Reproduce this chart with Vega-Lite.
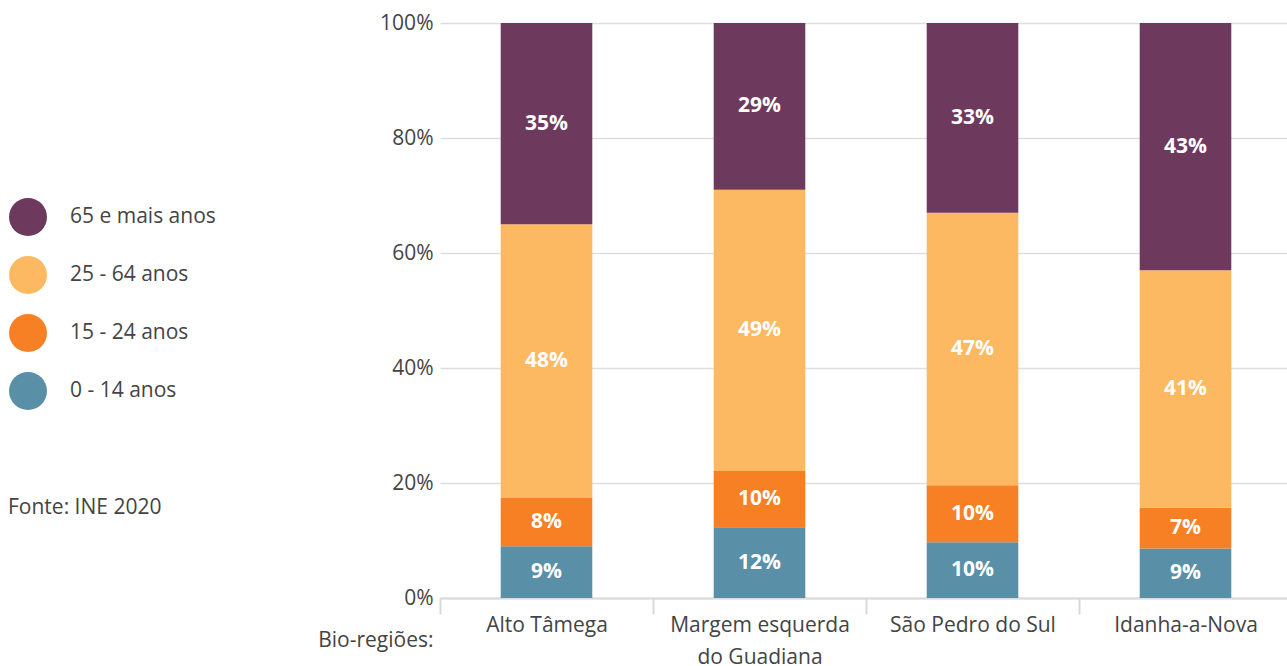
{
  "$schema": "https://vega.github.io/schema/vega-lite/v6.json",
  "width": 852,
  "height": 575,
  "autosize": "none",
  "padding": {"left": 440, "top": 23, "right": 0, "bottom": 68},
  "background": "white",
  "config": {"font": "Open Sans", "view": {"stroke": null}},
  "title": {
    "text": "Fonte: INE 2020",
    "anchor": "start",
    "frame": "group",
    "orient": "top",
    "offset": 0,
    "baseline": "middle",
    "dx": -432,
    "dy": 517,
    "fontSize": 21,
    "fontWeight": 500,
    "color": "#444444"
  },
  "data": {
    "values": [
      {"regiao": "Alto Tâmega", "grupo": "0 - 14 anos", "ordem": 1, "valor": 0.090},
      {"regiao": "Alto Tâmega", "grupo": "15 - 24 anos", "ordem": 2, "valor": 0.084},
      {"regiao": "Alto Tâmega", "grupo": "25 - 64 anos", "ordem": 3, "valor": 0.476},
      {"regiao": "Alto Tâmega", "grupo": "65 e mais anos", "ordem": 4, "valor": 0.350},
      {"regiao": "Margem esquerda do Guadiana", "grupo": "0 - 14 anos", "ordem": 1, "valor": 0.123},
      {"regiao": "Margem esquerda do Guadiana", "grupo": "15 - 24 anos", "ordem": 2, "valor": 0.098},
      {"regiao": "Margem esquerda do Guadiana", "grupo": "25 - 64 anos", "ordem": 3, "valor": 0.489},
      {"regiao": "Margem esquerda do Guadiana", "grupo": "65 e mais anos", "ordem": 4, "valor": 0.290},
      {"regiao": "São Pedro do Sul", "grupo": "0 - 14 anos", "ordem": 1, "valor": 0.097},
      {"regiao": "São Pedro do Sul", "grupo": "15 - 24 anos", "ordem": 2, "valor": 0.099},
      {"regiao": "São Pedro do Sul", "grupo": "25 - 64 anos", "ordem": 3, "valor": 0.474},
      {"regiao": "São Pedro do Sul", "grupo": "65 e mais anos", "ordem": 4, "valor": 0.330},
      {"regiao": "Idanha-a-Nova", "grupo": "0 - 14 anos", "ordem": 1, "valor": 0.086},
      {"regiao": "Idanha-a-Nova", "grupo": "15 - 24 anos", "ordem": 2, "valor": 0.071},
      {"regiao": "Idanha-a-Nova", "grupo": "25 - 64 anos", "ordem": 3, "valor": 0.413},
      {"regiao": "Idanha-a-Nova", "grupo": "65 e mais anos", "ordem": 4, "valor": 0.430}
    ]
  },
  "encoding": {
    "x": {
      "field": "regiao",
      "type": "nominal",
      "sort": ["Alto Tâmega", "Margem esquerda do Guadiana", "São Pedro do Sul", "Idanha-a-Nova"],
      "scale": {"paddingInner": 0, "paddingOuter": 0},
      "axis": {
        "title": "Bio-regiões:",
        "titleX": -7,
        "titleY": 42,
        "titleAlign": "right",
        "titleBaseline": "middle",
        "titleFontSize": 21,
        "titleFontWeight": 500,
        "titleColor": "#444444",
        "labelAngle": 0,
        "labelFontSize": 21,
        "labelFontWeight": 500,
        "labelColor": "#444444",
        "labelPadding": 0,
        "labelLineHeight": 32,
        "labelExpr": "datum.label == 'Margem esquerda do Guadiana' ? ['Margem esquerda', 'do Guadiana'] : datum.label",
        "tickBand": "extent",
        "tickSize": 16,
        "tickColor": "#d9d9d9",
        "tickWidth": 2,
        "domainColor": "#d9d9d9",
        "domainWidth": 2,
        "grid": false
      }
    },
    "order": {"field": "ordem", "type": "quantitative"}
  },
  "layer": [
    {
      "mark": {"type": "bar", "width": {"band": 0.43}},
      "encoding": {
        "y": {
          "field": "valor",
          "type": "quantitative",
          "stack": "zero",
          "scale": {"domain": [0, 1]},
          "axis": {
            "title": null,
            "format": ".0%",
            "values": [0, 0.2, 0.4, 0.6, 0.8, 1],
            "domain": false,
            "ticks": false,
            "labelPadding": 7,
            "labelFontSize": 21,
            "labelFontWeight": 500,
            "labelColor": "#444444",
            "gridColor": "#dedede",
            "gridWidth": 1.5
          }
        },
        "color": {
          "field": "grupo",
          "type": "nominal",
          "scale": {
            "domain": ["65 e mais anos", "25 - 64 anos", "15 - 24 anos", "0 - 14 anos"],
            "range": ["#6d3a5e", "#fdb962", "#f68023", "#5a8fa8"]
          },
          "legend": {
            "orient": "none",
            "legendX": -431,
            "legendY": 175,
            "title": null,
            "padding": 0,
            "symbolType": "circle",
            "symbolSize": 1444,
            "symbolStrokeWidth": 0,
            "symbolOpacity": 1,
            "labelFontSize": 21,
            "labelFontWeight": 500,
            "labelColor": "#444444",
            "labelOffset": 23,
            "rowPadding": 20
          }
        }
      }
    },
    {
      "mark": {"type": "text", "color": "white", "fontWeight": "bold", "fontSize": 21},
      "encoding": {
        "y": {"field": "valor", "type": "quantitative", "stack": "zero", "bandPosition": 0.5},
        "text": {"field": "valor", "type": "quantitative", "format": ".0%"}
      }
    }
  ]
}
